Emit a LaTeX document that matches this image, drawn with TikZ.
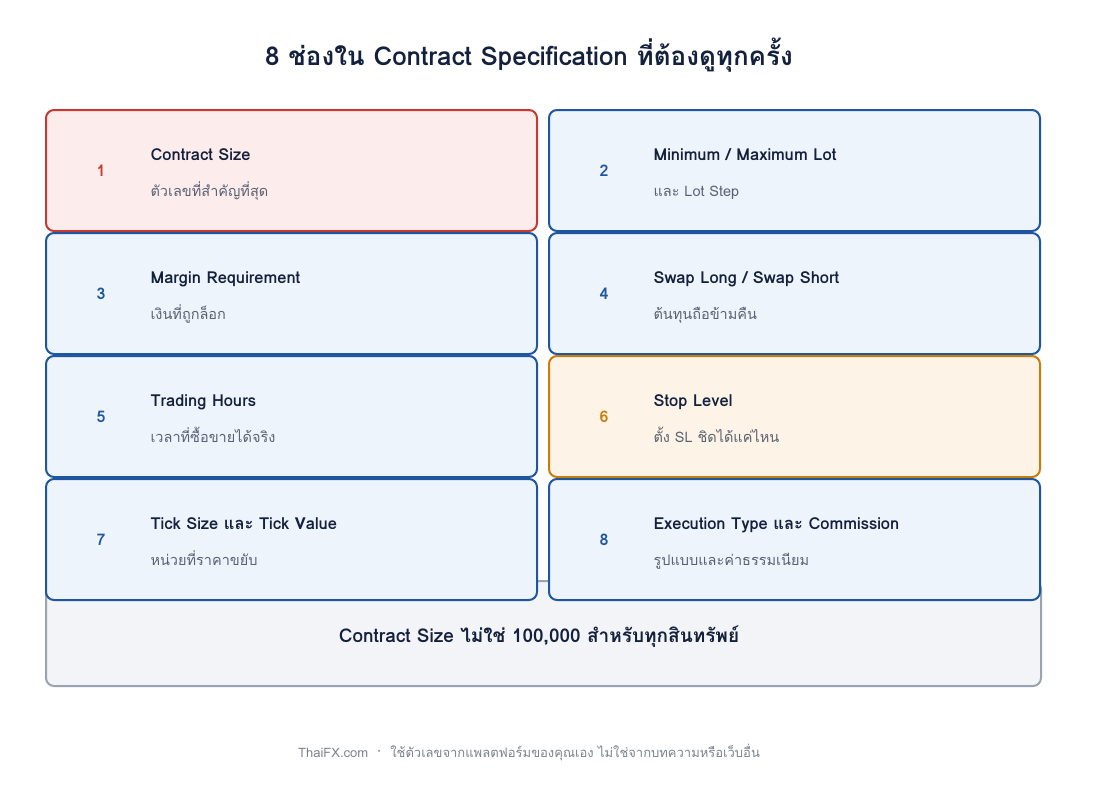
\documentclass[tikz,border=0pt]{standalone}
\usepackage{fontspec}
\setmainfont[Script=Thai]{Loma}
\definecolor{ink}{HTML}{14213D}
\definecolor{sub}{HTML}{5A6272}
\definecolor{blueb}{HTML}{1F56A0}
\definecolor{bluef}{HTML}{EEF4FC}
\definecolor{redb}{HTML}{C63A2F}
\definecolor{redf}{HTML}{FDECEC}
\definecolor{orab}{HTML}{C87C0A}
\definecolor{oraf}{HTML}{FDF3E7}
\definecolor{grayb}{HTML}{9AA3B0}
\definecolor{grayf}{HTML}{F3F4F7}
\begin{document}
\begin{tikzpicture}[x=1pt,y=-1pt,
    card/.style={draw=blueb,fill=bluef,line width=2pt,rounded corners=8pt,
      anchor=north west,minimum width=491pt,minimum height=121pt,inner sep=0pt},
    redcard/.style={card,draw=redb,fill=redf},
    oracard/.style={card,draw=orab,fill=oraf},
    num/.style={font=\bfseries\fontsize{16}{18}\selectfont},
    head/.style={anchor=base west,font=\bfseries\fontsize{16.5}{19}\selectfont,text=ink},
    sub/.style={anchor=base west,font=\fontsize{14.5}{17}\selectfont,text=sub}]
  \useasboundingbox (0,0) rectangle (1093,796);
  \node[draw=grayb,fill=grayf,line width=2pt,rounded corners=8pt,anchor=north west,
    minimum width=995pt,minimum height=105pt] (note) at (45,580) {};
  \node[font=\bfseries\fontsize{19}{22}\selectfont,text=ink] (notetext) at (539,637)
    {Contract Size ไม่ใช่ 100,000 สำหรับทุกสินทรัพย์};
  \node[font=\bfseries\fontsize{26}{30}\selectfont,text=ink] (title) at (529,55)
    {8 ช่องใน Contract Specification ที่ต้องดูทุกครั้ง};
  \foreach \i/\x/\y/\st/\nc/\t/\s in {
      1/45/109/redcard/redb/{Contract Size}/{ตัวเลขที่สำคัญที่สุด},
      2/548/109/card/blueb/{Minimum / Maximum Lot}/{และ Lot Step},
      3/45/232/card/blueb/{Margin Requirement}/{เงินที่ถูกล็อก},
      4/548/232/card/blueb/{Swap Long / Swap Short}/{ต้นทุนถือข้ามคืน},
      5/45/355/card/blueb/{Trading Hours}/{เวลาที่ซื้อขายได้จริง},
      6/548/355/oracard/orab/{Stop Level}/{ตั้ง SL ชิดได้แค่ไหน},
      7/45/478/card/blueb/{Tick Size และ Tick Value}/{หน่วยที่ราคาขยับ},
      8/548/478/card/blueb/{Execution Type และ Commission}/{รูปแบบและค่าธรรมเนียม}} {
    \node[\st] (c\i) at (\x,\y) {};
    \node[num,text=\nc] (n\i) at ([xshift=56pt]c\i.west) {\i};
    \node[head] (h\i) at (\x+102,\y+51) {\t};
    \node[sub] (s\i) at (\x+102,\y+87) {\s};
  }
  \node[font=\fontsize{13}{15}\selectfont,text=grayb!80!black] (foot) at (529,752)
    {ThaiFX.com \ · \ ใช้ตัวเลขจากแพลตฟอร์มของคุณเอง ไม่ใช่จากบทความหรือเว็บอื่น};
\end{tikzpicture}
\end{document}
